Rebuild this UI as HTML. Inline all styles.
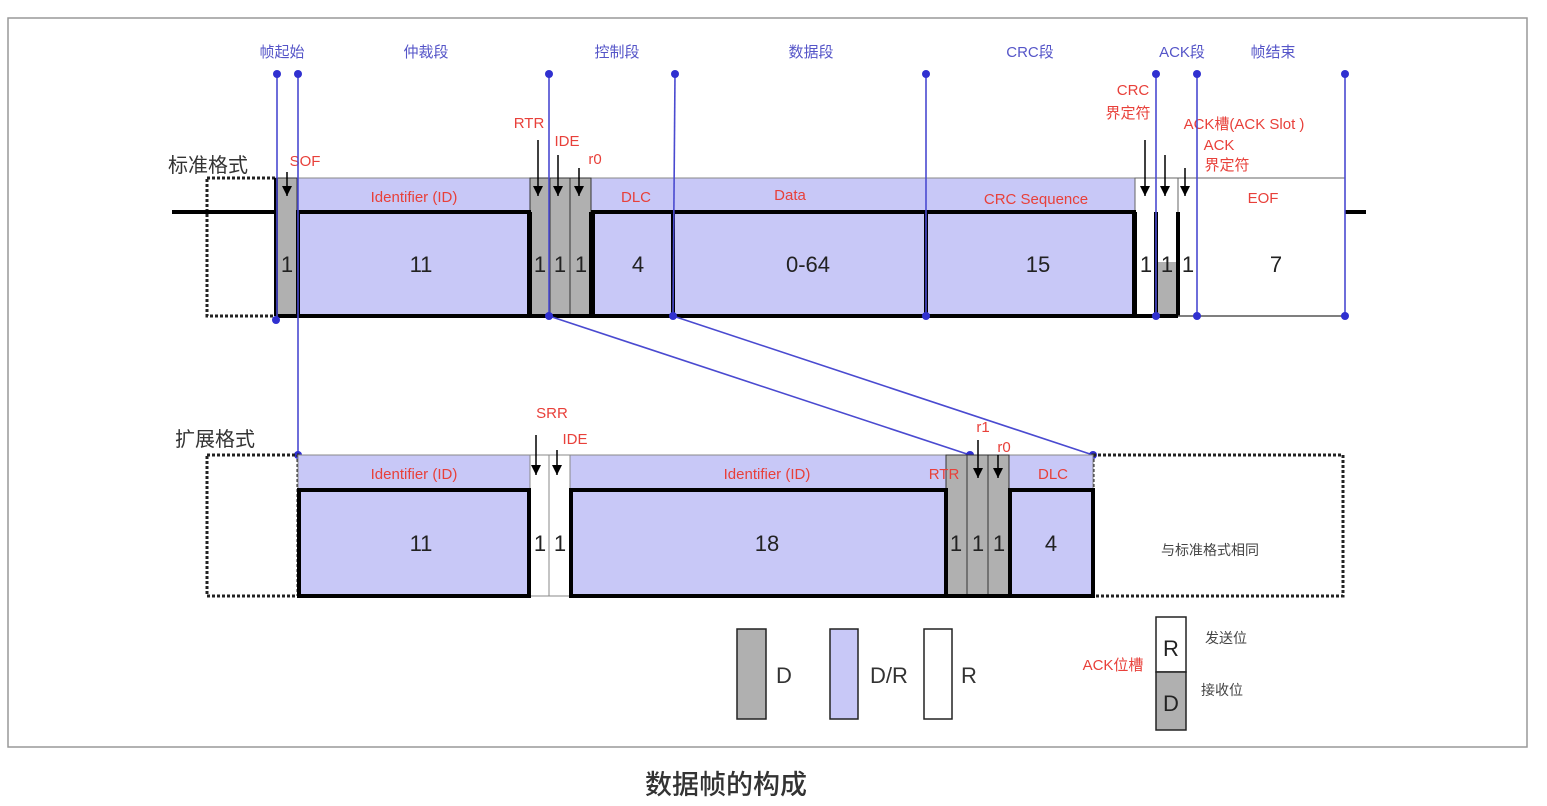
<!DOCTYPE html>
<html><head><meta charset="utf-8"><style>
html,body{margin:0;padding:0;background:#fff;width:1547px;height:806px;overflow:hidden}
svg{display:block}
text{font-family:"Liberation Sans","Noto Sans CJK SC",sans-serif}
</style></head><body>
<svg width="1547" height="806" viewBox="0 0 1547 806" xmlns="http://www.w3.org/2000/svg">
<defs>
<marker id="ah" viewBox="0 0 10 10" refX="10" refY="5" markerWidth="10" markerHeight="10" orient="auto" markerUnits="userSpaceOnUse">
<path d="M0,0 L10,5 L0,10 z" fill="#000"/></marker>
</defs>
<rect x="8" y="18" width="1519" height="729" fill="#fff" stroke="#999" stroke-width="1.5"/>

<!-- ===== Standard format ===== -->
<text x="168" y="172" font-size="20" fill="#333">标准格式</text>
<rect x="207" y="178" width="69" height="138" fill="none" stroke="#222" stroke-width="3" stroke-dasharray="3,2"/>
<line x1="172" y1="212" x2="276" y2="212" stroke="#000" stroke-width="4"/>
<line x1="1178" y1="212" x2="1366" y2="212" stroke="#000" stroke-width="4"/>

<g fill="#c8c8f7" stroke="#888" stroke-width="1">
<rect x="297" y="178" width="233" height="138"/>
<rect x="591" y="178" width="544" height="138"/>
</g>
<g fill="#fff" stroke="#666" stroke-width="1">
<rect x="1135" y="178" width="21" height="138"/>
<rect x="1156" y="178" width="22" height="138"/>
<rect x="1178" y="178" width="19" height="138"/>
<rect x="1197" y="178" width="148" height="138"/>
</g>
<rect x="1157" y="262" width="20" height="54" fill="#b0b0b0"/>
<g fill="#b0b0b0" stroke="#333" stroke-width="1">
<rect x="276" y="178" width="21" height="138"/>
<rect x="530" y="178" width="20" height="138"/>
<rect x="550" y="178" width="20" height="138"/>
<rect x="570" y="178" width="21" height="138"/>
</g>
<g fill="none" stroke="#000" stroke-width="4">
<rect x="298" y="212" width="231" height="104"/>
<rect x="593" y="212" width="541" height="104"/>
<line x1="276" y1="178" x2="276" y2="316"/>
<line x1="530" y1="212" x2="530" y2="316"/>
<line x1="591" y1="212" x2="591" y2="316"/>
<line x1="276" y1="316" x2="1178" y2="316"/>
<line x1="1135" y1="212" x2="1135" y2="316"/>
<line x1="1156" y1="212" x2="1156" y2="316"/>
<line x1="1178" y1="212" x2="1178" y2="316"/>
<line x1="673" y1="212" x2="673" y2="316"/>
<line x1="926" y1="212" x2="926" y2="316"/>
</g>
<line x1="1178" y1="316" x2="1345" y2="316" stroke="#555" stroke-width="1.5"/>

<g fill="#e8403a" font-size="15" text-anchor="middle">
<text x="414" y="202">Identifier (ID)</text>
<text x="636" y="202">DLC</text>
<text x="790" y="200">Data</text>
<text x="1036" y="204">CRC Sequence</text>
<text x="1263" y="203">EOF</text>
<text x="305" y="166">SOF</text>
<text x="529" y="128">RTR</text>
<text x="567" y="146">IDE</text>
<text x="595" y="164">r0</text>
<text x="1133" y="95">CRC</text>
<text x="1128" y="118">界定符</text>
<text x="1244" y="129">ACK槽(ACK Slot )</text>
<text x="1219" y="150">ACK</text>
<text x="1227" y="170">界定符</text>
</g>
<g fill="#222" font-size="22" text-anchor="middle">
<text x="287" y="272">1</text>
<text x="421" y="272">11</text>
<text x="540" y="272">1</text>
<text x="560" y="272">1</text>
<text x="581" y="272">1</text>
<text x="638" y="272">4</text>
<text x="808" y="272">0-64</text>
<text x="1038" y="272">15</text>
<text x="1146" y="272">1</text>
<text x="1167" y="272">1</text>
<text x="1188" y="272">1</text>
<text x="1276" y="272">7</text>
</g>
<g stroke="#000" stroke-width="1.5" marker-end="url(#ah)">
<line x1="287" y1="172" x2="287" y2="196"/>
<line x1="538" y1="140" x2="538" y2="196"/>
<line x1="558" y1="155" x2="558" y2="196"/>
<line x1="579" y1="168" x2="579" y2="196"/>
<line x1="1145" y1="140" x2="1145" y2="196"/>
<line x1="1165" y1="155" x2="1165" y2="196"/>
<line x1="1185" y1="168" x2="1185" y2="196"/>
</g>

<g stroke="#4a4ad0" stroke-width="1.6" fill="none">
<line x1="277" y1="74" x2="277" y2="320"/>
<line x1="298" y1="74" x2="298" y2="455"/>
<line x1="549" y1="74" x2="549" y2="316"/>
<line x1="675" y1="74" x2="673" y2="316"/>
<line x1="926" y1="74" x2="926" y2="316"/>
<line x1="1156" y1="74" x2="1156" y2="316"/>
<line x1="1197" y1="74" x2="1197" y2="316"/>
<line x1="1345" y1="74" x2="1345" y2="316"/>
<line x1="549" y1="316" x2="970" y2="455"/>
<line x1="673" y1="316" x2="1093" y2="455"/>
</g>
<g fill="#3030d0">
<circle cx="277" cy="74" r="4"/><circle cx="298" cy="74" r="4"/><circle cx="549" cy="74" r="4"/>
<circle cx="675" cy="74" r="4"/><circle cx="926" cy="74" r="4"/><circle cx="1156" cy="74" r="4"/>
<circle cx="1197" cy="74" r="4"/><circle cx="1345" cy="74" r="4"/>
<circle cx="276" cy="320" r="4"/><circle cx="549" cy="316" r="4"/><circle cx="673" cy="316" r="4"/>
<circle cx="926" cy="316" r="4"/><circle cx="1156" cy="316" r="4"/><circle cx="1197" cy="316" r="4"/>
<circle cx="1345" cy="316" r="4"/>
<circle cx="298" cy="455" r="4"/><circle cx="970" cy="455" r="4"/><circle cx="1093" cy="455" r="4"/>
</g>
<g fill="#5555c8" font-size="15" text-anchor="middle">
<text x="282" y="57">帧起始</text>
<text x="426" y="57">仲裁段</text>
<text x="617" y="57">控制段</text>
<text x="811" y="57">数据段</text>
<text x="1030" y="57">CRC段</text>
<text x="1182" y="57">ACK段</text>
<text x="1273" y="57">帧结束</text>
</g>

<!-- ===== Extended format ===== -->
<text x="175" y="446" font-size="20" fill="#333">扩展格式</text>
<rect x="207" y="455" width="91" height="141" fill="none" stroke="#222" stroke-width="3" stroke-dasharray="3,2"/>
<rect x="1093" y="455" width="250" height="141" fill="none" stroke="#222" stroke-width="3" stroke-dasharray="3,2"/>
<g fill="#c8c8f7" stroke="#888" stroke-width="1">
<rect x="298" y="455" width="232" height="141"/>
<rect x="570" y="455" width="376" height="141"/>
<rect x="1009" y="455" width="84" height="141"/>
</g>
<g fill="#fff" stroke="#888" stroke-width="1">
<rect x="530" y="455" width="19" height="141"/>
<rect x="549" y="455" width="21" height="141"/>
</g>
<g fill="#b0b0b0" stroke="#333" stroke-width="1">
<rect x="946" y="455" width="21" height="141"/>
<rect x="967" y="455" width="21" height="141"/>
<rect x="988" y="455" width="21" height="141"/>
</g>
<g fill="none" stroke="#000" stroke-width="4">
<rect x="299" y="490" width="230" height="106"/>
<rect x="571" y="490" width="375" height="106"/>
<rect x="1010" y="490" width="83" height="106"/>
<line x1="946" y1="596" x2="1009" y2="596"/>
</g>
<g fill="#e8403a" font-size="15" text-anchor="middle">
<text x="414" y="479">Identifier (ID)</text>
<text x="767" y="479">Identifier (ID)</text>
<text x="944" y="479">RTR</text>
<text x="1053" y="479">DLC</text>
<text x="552" y="418">SRR</text>
<text x="575" y="444">IDE</text>
<text x="983" y="432">r1</text>
<text x="1004" y="452">r0</text>
</g>
<g fill="#222" font-size="22" text-anchor="middle">
<text x="421" y="551">11</text>
<text x="540" y="551">1</text>
<text x="560" y="551">1</text>
<text x="767" y="551">18</text>
<text x="956" y="551">1</text>
<text x="978" y="551">1</text>
<text x="999" y="551">1</text>
<text x="1051" y="551">4</text>
</g>
<text x="1210" y="555" font-size="14" fill="#444" text-anchor="middle">与标准格式相同</text>
<g stroke="#000" stroke-width="1.5" marker-end="url(#ah)">
<line x1="536" y1="435" x2="536" y2="475"/>
<line x1="557" y1="450" x2="557" y2="475"/>
<line x1="978" y1="440" x2="978" y2="478"/>
<line x1="998" y1="455" x2="998" y2="478"/>
</g>

<!-- ===== Legend ===== -->
<rect x="737" y="629" width="29" height="90" fill="#b0b0b0" stroke="#222" stroke-width="1.5"/>
<text x="776" y="683" font-size="22" fill="#333">D</text>
<rect x="830" y="629" width="28" height="90" fill="#c8c8f7" stroke="#222" stroke-width="1.5"/>
<text x="870" y="683" font-size="22" fill="#333">D/R</text>
<rect x="924" y="629" width="28" height="90" fill="#fff" stroke="#222" stroke-width="1.5"/>
<text x="961" y="683" font-size="22" fill="#333">R</text>
<rect x="1156" y="617" width="30" height="55" fill="#fff" stroke="#222" stroke-width="1.5"/>
<rect x="1156" y="672" width="30" height="58" fill="#b0b0b0" stroke="#222" stroke-width="1.5"/>
<text x="1171" y="656" font-size="22" fill="#222" text-anchor="middle">R</text>
<text x="1171" y="711" font-size="22" fill="#222" text-anchor="middle">D</text>
<text x="1113" y="670" font-size="15" fill="#e8403a" text-anchor="middle">ACK位槽</text>
<text x="1205" y="643" font-size="14" fill="#444">发送位</text>
<text x="1201" y="695" font-size="14" fill="#444">接收位</text>

<text x="726" y="794" font-size="27" fill="#333" font-weight="500" text-anchor="middle">数据帧的构成</text>
</svg>
</body></html>
